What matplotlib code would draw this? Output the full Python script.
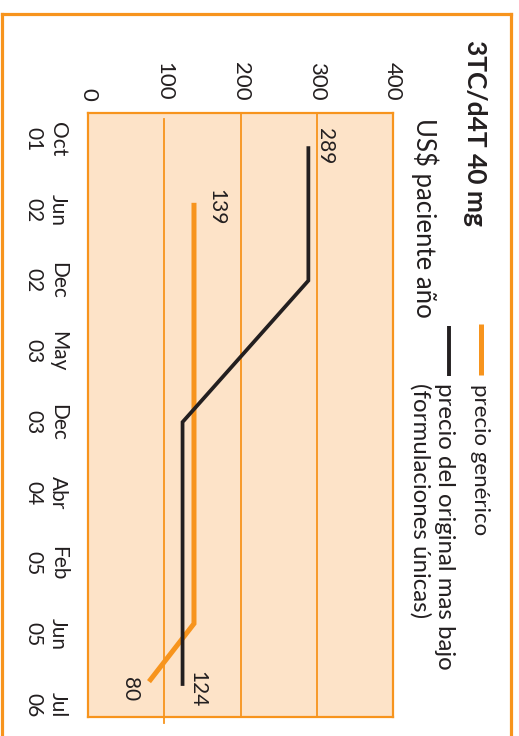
import matplotlib
matplotlib.use("Agg")
import matplotlib.pyplot as plt
from matplotlib.lines import Line2D
from matplotlib import transforms

# price data (US$ per patient per year), time axis in label slots
months = ["Oct\n01", "Jun\n02", "Dec\n02", "May\n03", "Dec\n03",
          "Abr\n04", "Feb\n05", "Jun\n05", "Jul\n06"]
value_ticks = [0, 100, 200, 300, 400]

generic_t = [0.9, 6.85, 7.67]
generic_price = [139, 139, 80]

original_t = [0.1, 2.0, 4.0, 7.73]
original_price = [289, 289, 124, 124]

ORANGE = "#F7941D"
PEACH = "#FDE3C8"
INK = "#231F20"

W, H = 519, 736
plt.rcParams["font.family"] = ["Lato", "DejaVu Sans"]

fig = plt.figure(figsize=(W / 100, H / 100), dpi=100)
fig.patch.set_facecolor("white")


def fx(px):
    return px / W


def fy(py):
    return 1 - py / H


# chart is laid out turned a quarter turn clockwise:
# values grow to the right, time runs downwards
ax = fig.add_axes([fx(88), fy(717), (393 - 88) / W, (717 - 113) / H])
ax.set_facecolor(PEACH)
ax.set_xlim(0, 400)
ax.set_ylim(8.17, -0.37)
ax.set_xticks([])
ax.set_yticks([])
for s in ax.spines.values():
    s.set_color(ORANGE)
    s.set_linewidth(1.6)

# grid; the first line runs a little past the bottom edge
ax.axvline(value_ticks[1], ymin=-0.01, ymax=0.99, color=ORANGE, lw=1.3,
           zorder=1, clip_on=False)
for v in value_ticks[2:-1]:
    ax.axvline(v, color=ORANGE, lw=1.3, zorder=1)

ax.plot(generic_price, generic_t, color=ORANGE, lw=3.6,
        solid_capstyle="butt", solid_joinstyle="miter", zorder=3)
ax.plot(original_price, original_t, color=INK, lw=2.7,
        solid_capstyle="butt", solid_joinstyle="miter", zorder=4)

lab = dict(rotation=-90, fontsize=15, color=INK, textcoords="offset pixels")
ax.annotate(str(original_price[0]), (original_price[0], original_t[0]),
            xytext=(7, 0), ha="left", va="center", **lab)
ax.annotate(str(generic_price[0]), (generic_price[0], generic_t[0]),
            xytext=(12, -4), ha="left", va="center", **lab)
ax.annotate(str(original_price[-1]), (original_price[-1], original_t[-1]),
            xytext=(5, -3), ha="left", va="center", **lab)
ax.annotate(str(generic_price[-1]), (generic_price[-1], generic_t[-1]),
            xytext=(-9, -7), ha="right", va="center", **lab)

# value labels above the plot
tv = transforms.blended_transform_factory(ax.transData, fig.transFigure)
for v in value_ticks:
    fig.text(v, fy(101), str(v), transform=tv, rotation=-90,
             ha="center", va="bottom", fontsize=16, color=INK)

# time labels left of the plot
tt = transforms.blended_transform_factory(fig.transFigure, ax.transData)
for i, m in enumerate(months):
    fig.text(fx(68), i, m, transform=tt, rotation=-90, ha="right",
             va="center", multialignment="center", linespacing=1.3,
             fontsize=15, color=INK)

fig.text(fx(475), fy(40), "3TC/d4T 40 mg", rotation=-90, ha="center",
         va="top", fontsize=19, fontweight="bold", color=INK)
fig.text(fx(425), fy(118), "US$ paciente año", rotation=-90, ha="center",
         va="top", fontsize=18.5, color=INK)

# legend
fig.add_artist(Line2D([fx(481), fx(481)], [fy(324), fy(375)],
                      color=ORANGE, lw=3.6, solid_capstyle="butt"))
fig.add_artist(Line2D([fx(449), fx(449)], [fy(326), fy(376)],
                      color=INK, lw=2.8, solid_capstyle="butt"))
fig.text(fx(480), fy(384), "precio genérico", rotation=-90, ha="center",
         va="top", fontsize=16, color=INK)
fig.text(fx(432), fy(383), "precio del original mas bajo\n(formulaciones únicas)",
         rotation=-90, ha="center", va="top", multialignment="left",
         linespacing=1.15, fontsize=17.3, color=INK)

# outer frame
for xs, ys in [([1.5, 1.5], [13.5, H]), ([1.5, 510.5], [13.5, 13.5]),
               ([510.5, 510.5], [13.5, H])]:
    fig.add_artist(Line2D([fx(x) for x in xs], [fy(y) for y in ys],
                          color=ORANGE, lw=2.3, solid_capstyle="projecting"))

fig.savefig("out.png", dpi=100)
